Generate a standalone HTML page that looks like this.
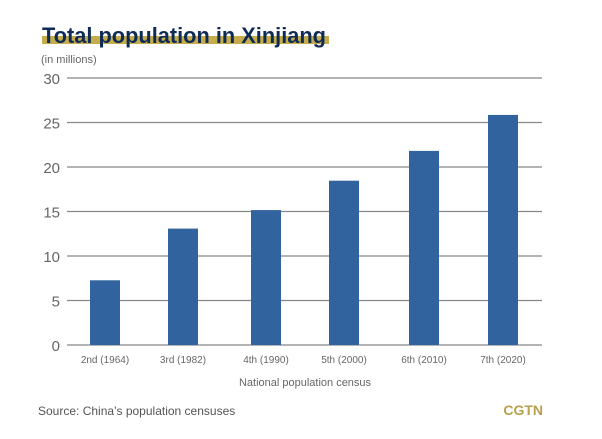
<!DOCTYPE html>
<html><head><meta charset="utf-8"><style>
body{margin:0;background:#fff;width:602px;height:434px;overflow:hidden;font-family:"Liberation Sans",sans-serif}
</style></head><body>
<svg width="602" height="434">
<rect x="42" y="36" width="287" height="8" fill="#c5ad4e"/>
<text x="42" y="43" font-size="22" font-weight="bold" fill="#0d2b55" textLength="284" lengthAdjust="spacingAndGlyphs">Total population in Xinjiang</text>
<text x="41" y="63" font-size="11" fill="#666">(in millions)</text>
<g id="grid"></g>
<g id="bars"></g>
<g id="xlabels"></g>
<text x="305" y="386" font-size="11" fill="#666" text-anchor="middle">National population census</text>
<text x="38" y="415" font-size="12" fill="#555">Source: China’s population censuses</text>
<text x="543" y="415" font-size="14" font-weight="bold" fill="#b9a04c" text-anchor="end">CGTN</text>
</svg>
<script>
const categories=["2nd (1964)","3rd (1982)","4th (1990)","5th (2000)","6th (2010)","7th (2020)"];
const values=[7.27,13.08,15.16,18.46,21.81,25.85];
const yTicks=[0,5,10,15,20,25,30];
const NS="http://www.w3.org/2000/svg";
const x0=67,x1=542,yTop=78,yBot=345,yMax=30;
const y=v=>yBot-(v/yMax)*(yBot-yTop);
const centers=[105,183,266,344,424,503];
const xc=i=>centers[i]!==undefined?centers[i]:x0+(i+0.5)*(x1-x0)/categories.length;
function mk(t,a,p){const e=document.createElementNS(NS,t);for(const k in a)e.setAttribute(k,a[k]);p.appendChild(e);return e;}
const g=document.getElementById('grid');
yTicks.forEach(v=>{
 const l=mk('line',{x1:x0,x2:x1,y1:y(v),y2:y(v),stroke:'#888','stroke-width':1.3},g);
 
 
 const t=mk('text',{x:60,y:y(v)+6,'font-size':15,fill:'#666','text-anchor':'end'},g);
 t.textContent=v;
 
 
});
const b=document.getElementById('bars'),xl=document.getElementById('xlabels');
values.forEach((v,i)=>{
 const r=mk('rect',{x:xc(i)-15,y:y(v),width:30,height:yBot-y(v),fill:'#31639e'},b);
 
 
 const t=mk('text',{x:xc(i),y:363,'font-size':10,fill:'#666','text-anchor':'middle'},xl);
 t.textContent=categories[i];
 
 
});
</script>
</body></html>
